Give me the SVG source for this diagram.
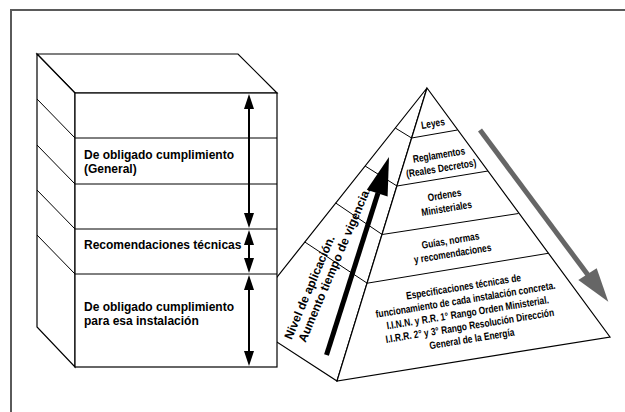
<svg xmlns="http://www.w3.org/2000/svg" width="625" height="412" viewBox="0 0 625 412">
<style>
.ln{fill:none;stroke:#000;stroke-width:1}
.face{fill:#fff;stroke:#000;stroke-width:1.2;stroke-linejoin:miter}
.bt{font-family:"Liberation Sans",Arial,sans-serif;font-weight:bold;font-size:12px;fill:#000}
.pt{font-family:"Liberation Sans",Arial,sans-serif;font-weight:bold;font-size:10.5px;fill:#000;text-anchor:middle}
.dbl{stroke:#000;stroke-width:2}
</style>
<defs>
<polygon id="up" points="0,0 -5,15 5,15" fill="#000"/>
<polygon id="dn" points="0,0 -5,-15 5,-15" fill="#000"/>
</defs>
<rect width="625" height="412" fill="#fff"/>
<path id="frame" d="M11,412 V10 H625" fill="none" stroke="#5a5a5a" stroke-width="2"/>

<g id="pyramid">
<polygon class="face" points="427,88 243,320 337,381"/>
<polygon class="face" points="427,88 337,381 610,337"/>
<g id="pyr-left-lines">
<line class="ln" x1="395.3" y1="128" x2="411.6" y2="138"/>
<line class="ln" x1="365.1" y1="166" x2="397" y2="186"/>
<line class="ln" x1="335.7" y1="203" x2="382.2" y2="234.5"/>
<line class="ln" x1="304.8" y1="242" x2="367.2" y2="283.2"/>
</g>
</g>
<g id="pyr-leyes">
<line class="ln" x1="411.6" y1="138" x2="457.5" y2="130"/>
<text class="pt" transform="translate(433.5,127) rotate(-9.5) scale(0.8,1)">Leyes</text>
</g>
<g id="pyr-reglamentos">
<line class="ln" x1="397" y1="186" x2="488" y2="171"/>
<text class="pt" transform="translate(439.5,158.5) rotate(-9.3) scale(0.8,1)"><tspan x="0" y="0">Reglamentos</tspan><tspan x="0" y="13.5">(Reales Decretos)</tspan></text>
</g>
<g id="pyr-ordenes">
<line class="ln" x1="382.2" y1="234.5" x2="518.5" y2="213.5"/>
<text class="pt" transform="translate(445,198.5) rotate(-9.3) scale(0.8,1)"><tspan x="0" y="0">Ordenes</tspan><tspan x="0" y="13.5">Ministeriales</tspan></text>
</g>
<g id="pyr-guias">
<line class="ln" x1="367.2" y1="283.2" x2="548.3" y2="253.3"/>
<text class="pt" transform="translate(451,244) rotate(-9.3) scale(0.8,1)"><tspan x="0" y="0">Guías, normas</tspan><tspan x="0" y="13.2">y recomendaciones</tspan></text>
</g>
<g id="pyr-especificaciones">
<text class="pt" transform="translate(464,290.2) rotate(-9.2) scale(0.8,1)"><tspan x="0" y="0">Especificaciones técnicas de</tspan><tspan x="0" y="13.2">funcionamiento de cada instalación concreta.</tspan><tspan x="0" y="26.4">I.I.N.N. y R.R. 1° Rango Orden Ministerial.</tspan><tspan x="0" y="39.6">I.I.R.R. 2° y 3° Rango Resolución Dirección</tspan><tspan x="0" y="52.8">General de la Energía</tspan></text>
</g>
<g id="pyr-side-label">
<text class="bt" transform="translate(291.5,340.2) rotate(-67)"><tspan x="0" y="0">Nivel de aplicación.</tspan><tspan x="3" y="14">Aumento tiempo de vigencia.</tspan></text>
</g>

<g id="box">
<polygon class="face" points="37,54 238,54 277,93 75,93"/>
<polygon class="face" points="37,54 75,93 75,367 37,327"/>
<rect class="face" x="75" y="93" width="202" height="274"/>
<line class="ln" x1="37" y1="99" x2="75" y2="138"/>
<line class="ln" x1="37" y1="145" x2="75" y2="184"/>
<line class="ln" x1="37" y1="190" x2="75" y2="229"/>
<line class="ln" x1="37" y1="235" x2="75" y2="274"/>
</g>
<g id="layer-1"><line class="ln" x1="75" y1="138" x2="277" y2="138"/></g>
<g id="layer-general">
<line class="ln" x1="75" y1="184" x2="277" y2="184"/>
<text class="bt" x="84" y="159">De obligado cumplimiento</text>
<text class="bt" x="84" y="173">(General)</text>
</g>
<g id="layer-3"><line class="ln" x1="75" y1="229" x2="277" y2="229"/></g>
<g id="layer-recomendaciones">
<line class="ln" x1="75" y1="274" x2="277" y2="274"/>
<text class="bt" x="84" y="249">Recomendaciones técnicas</text>
</g>
<g id="layer-instalacion">
<text class="bt" x="84" y="311">De obligado cumplimiento</text>
<text class="bt" x="84" y="325">para esa instalación</text>
</g>

<g id="connectors">
<line class="dbl" x1="249" y1="104" x2="249" y2="218"/>
<use href="#up" x="249" y="94"/>
<use href="#dn" x="249" y="228"/>
<line class="dbl" x1="249" y1="240" x2="249" y2="263"/>
<use href="#up" x="249" y="230"/>
<use href="#dn" x="249" y="273"/>
<line class="dbl" x1="249" y1="285" x2="249" y2="356"/>
<use href="#up" x="249" y="275"/>
<use href="#dn" x="249" y="366"/>
<line x1="326.5" y1="355" x2="378" y2="193" stroke="#000" stroke-width="5"/>
<polygon points="389,157 366.8,189.7 387.6,196.5" fill="#000"/>
<line x1="480" y1="130" x2="588" y2="275" stroke="#666" stroke-width="5"/>
<polygon points="608.3,301.7 578.3,280 596.7,268.3" fill="#666"/>
</g>
</svg>
